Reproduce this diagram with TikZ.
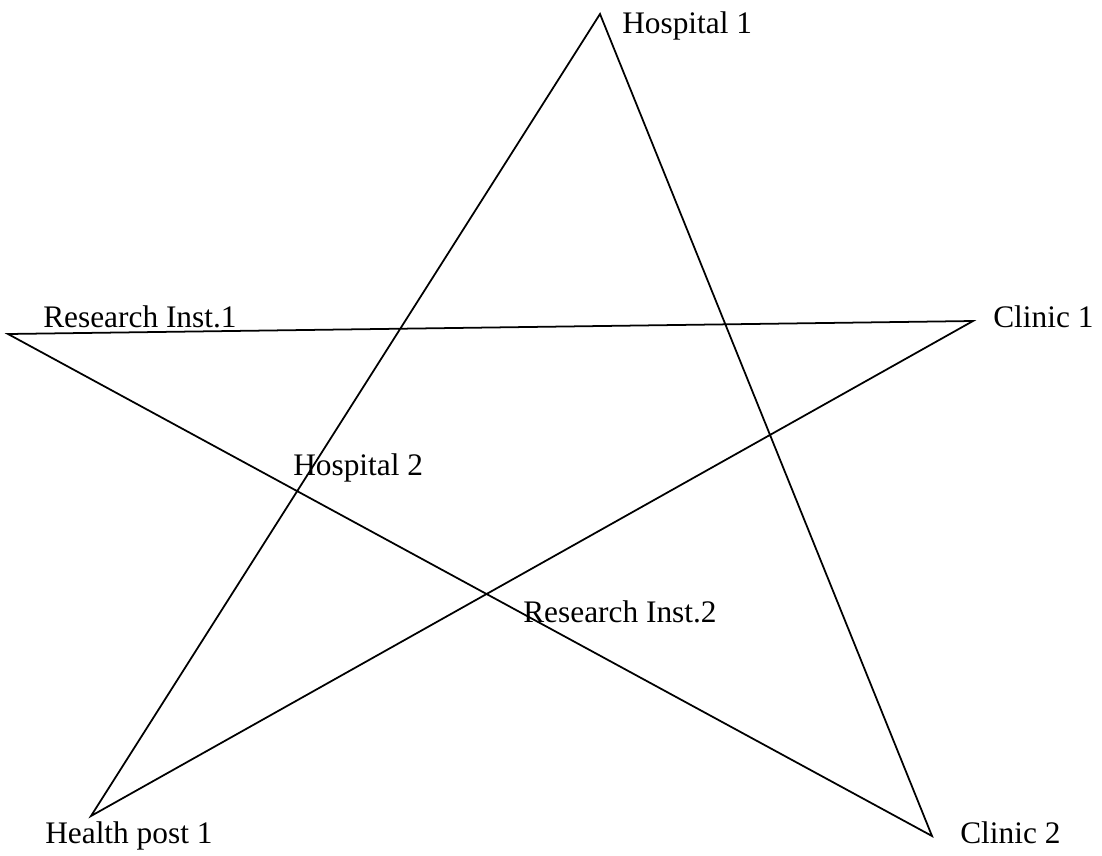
\documentclass[tikz,border=0pt]{standalone}
\usepackage{fontspec}
\setmainfont{Liberation Serif}
\usepackage{tikz}
\usetikzlibrary{positioning}

\begin{document}
\begin{tikzpicture}[
    x=0.025cm, y=-0.025cm,
    lbl/.style={anchor=base west, inner sep=0pt, font=\fontsize{22.3}{26}\selectfont},
    link/.style={line width=1.25pt, line join=miter}
]
    \useasboundingbox (0,0) rectangle (1102,855);

    % Star points
    \coordinate (hosp1) at (600,14);
    \coordinate (clinic1) at (973,321);
    \coordinate (clinic2) at (932,836);
    \coordinate (hpost1) at (91,816);
    \coordinate (resinst1) at (8,334);

    % Labels
    \node[lbl] (hosp1lbl) at (622,33) {Hospital 1};
    \node[lbl] (clinic1lbl) at (993,327) {Clinic 1};
    \node[lbl] (clinic2lbl) at (960,843) {Clinic 2};
    \node[lbl] (hpost1lbl) at (45,843) {Health post 1};
    \node[lbl] (resinst1lbl) at (43,327) {Research Inst.1};
    \node[lbl] (hosp2lbl) at (293,475) {Hospital 2};
    \node[lbl] (resinst2lbl) at (523,622) {Research Inst.2};

    % Links
    \draw[link] (hosp1) -- (hpost1) -- (clinic1) -- (resinst1) -- (clinic2) -- cycle;
\end{tikzpicture}
\end{document}
